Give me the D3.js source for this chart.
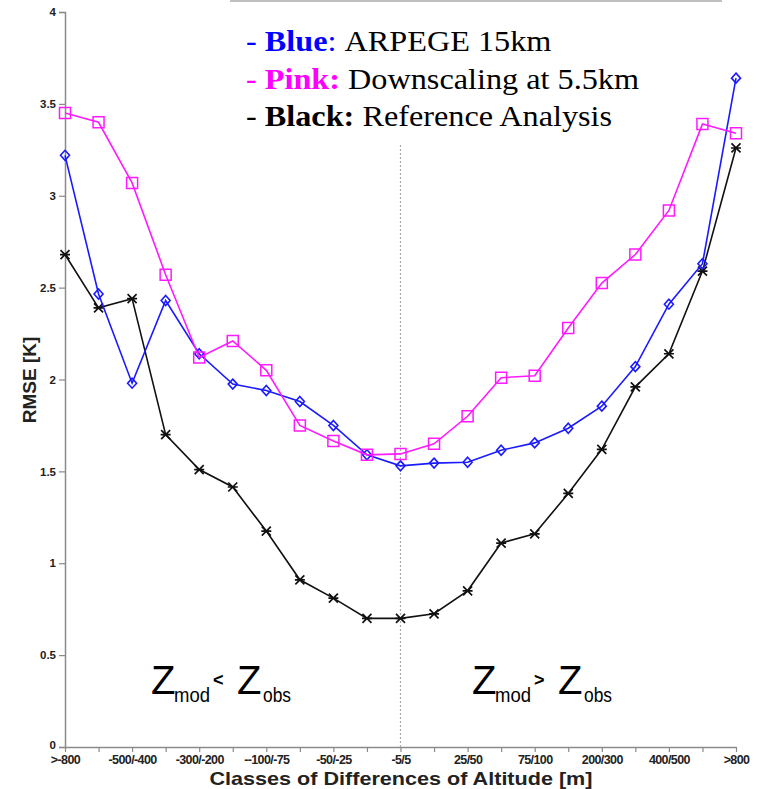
<!DOCTYPE html>
<html>
<head>
<meta charset="utf-8">
<script src="https://cdn.jsdelivr.net/npm/d3@7"></script>
<style>
  body { margin: 0; background: #fff; }
  svg { display: block; }
</style>
</head>
<body>
<div id="chart"></div>
<script>
// Data
const classes = d3.range(21);
const classLabels = [">-800", "", "-500/-400", "", "-300/-200", "", "--100/-75", "", "-50/-25", "",
  "-5/5", "", "25/50", "", "75/100", "", "200/300", "", "400/500", "", ">800"];
const arpege = [3.22, 2.465, 1.98, 2.43, 2.14, 1.975, 1.94, 1.88, 1.75, 1.59, 1.53,
  1.545, 1.55, 1.615, 1.655, 1.735, 1.855, 2.07, 2.41, 2.63, 3.64];
const downscaling = [3.45, 3.40, 3.07, 2.57, 2.12, 2.21, 2.05, 1.75, 1.665, 1.59, 1.595,
  1.65, 1.80, 2.01, 2.02, 2.28, 2.525, 2.68, 2.92, 3.39, 3.34];
const reference = [2.68, 2.39, 2.44, 1.70, 1.51, 1.415, 1.175, 0.91, 0.81, 0.70, 0.70,
  0.725, 0.85, 1.11, 1.16, 1.38, 1.62, 1.96, 2.14, 2.59, 3.26];
const yTicks = [0, 0.5, 1, 1.5, 2, 2.5, 3, 3.5, 4];

const W = 768, H = 789;
const svg = d3.select("#chart").append("svg").attr("width", W).attr("height", H);

const x = d3.scalePoint().domain(classes).range([65, 736]);
const y = d3.scaleLinear().domain([0, 4]).range([747, 12]);

const axisColor = "#8a8a8a";
const sans = "'Liberation Sans', Arial, sans-serif";

// top frame line
svg.append("line")
  .attr("x1", 230).attr("x2", 722).attr("y1", 1).attr("y2", 1)
  .attr("stroke", "#aaa").attr("stroke-width", 1.5);

// Y axis
const yAxis = svg.append("g")
  .attr("transform", `translate(${x(0)},0)`)
  .call(d3.axisLeft(y).tickValues(yTicks).tickSize(6).tickPadding(3).tickFormat(d3.format("~g")));
yAxis.select(".domain").attr("stroke", axisColor).attr("stroke-width", 1.5);
yAxis.selectAll(".tick line").attr("stroke", axisColor).attr("stroke-width", 1.2);
yAxis.selectAll(".tick text")
  .attr("fill", "#222")
  .style("font-family", sans)
  .style("font-weight", "bold")
  .style("font-size", "11.5px");
// lift the "0" label slightly so it clears the first class label
yAxis.selectAll(".tick text").filter(d => d === 0).attr("dy", "0.1em");

// X axis
const xAxis = svg.append("g")
  .attr("transform", `translate(0,${y(0)})`)
  .call(d3.axisBottom(x).tickSize(5).tickSizeOuter(0).tickPadding(3).tickFormat(i => classLabels[i]));
xAxis.select(".domain").attr("stroke", axisColor).attr("stroke-width", 1.5);
xAxis.selectAll(".tick line").attr("stroke", axisColor).attr("stroke-width", 1.2);
xAxis.selectAll(".tick text")
  .attr("fill", "#222")
  .style("font-family", sans)
  .style("font-weight", "bold")
  .style("font-size", "12.5px")
  .style("letter-spacing", "-0.6px");

// Axis titles
svg.append("text")
  .attr("x", 401).attr("y", 785)
  .attr("text-anchor", "middle")
  .attr("textLength", 383).attr("lengthAdjust", "spacingAndGlyphs")
  .style("font-family", sans)
  .style("font-weight", "bold")
  .style("font-size", "19px")
  .attr("fill", "#222")
  .text("Classes of Differences of Altitude [m]");

svg.append("text")
  .attr("transform", "translate(36,380) rotate(-90)")
  .attr("text-anchor", "middle")
  .style("font-family", sans)
  .style("font-weight", "bold")
  .style("font-size", "19px")
  .attr("fill", "#222")
  .text("RMSE [K]");

// centre dotted line
svg.append("line")
  .attr("x1", x(10)).attr("x2", x(10))
  .attr("y1", 145).attr("y2", y(0))
  .attr("stroke", "#aaa").attr("stroke-width", 1.2)
  .attr("stroke-dasharray", "2,2");

// Series
const line = d3.line().x((d, i) => x(i)).y(d => y(d));

function drawSeries(values, color, marker, sw) {
  const g = svg.append("g");
  g.append("path")
    .datum(values)
    .attr("d", line)
    .attr("fill", "none")
    .attr("stroke", color)
    .attr("stroke-width", 1.6);
  g.selectAll("path.marker")
    .data(values)
    .join("path")
    .attr("class", "marker")
    .attr("transform", (d, i) => `translate(${x(i)},${y(d)})`)
    .attr("d", marker)
    .attr("fill", "none")
    .attr("stroke", color)
    .attr("stroke-width", sw);
}

const diamond = "M0,-5L4.5,0L0,5L-4.5,0Z";
const square = "M-5.5,-5.5H5.5V5.5H-5.5Z";
const star = "M-4.5,-4.5L4.5,4.5M-4.5,4.5L4.5,-4.5M-5,0H5";

drawSeries(reference, "#111", star, 1.7);
drawSeries(arpege, "#1a1aff", diamond, 1.6);
drawSeries(downscaling, "#ff1aff", square, 1.5);

// Legend
const legend = svg.append("g")
  .attr("transform", "translate(246,0) scale(1.075,1)")
  .style("font-family", "'Liberation Serif', 'Times New Roman', serif")
  .style("font-size", "30px");

const legendRows = [
  { y: 51, color: "#0000ff", bold: "Blue", tail: ": ", rest: "ARPEGE 15km" },
  { y: 89, color: "#ff00ff", bold: "Pink:", tail: " ", rest: "Downscaling at 5.5km" },
  { y: 126, color: "#000", bold: "Black:", tail: " ", rest: "Reference Analysis" }
];
legendRows.forEach(r => {
  const t = legend.append("text").attr("x", 0).attr("y", r.y);
  t.append("tspan").attr("fill", r.color).text("- ");
  t.append("tspan").attr("fill", r.color).style("font-weight", "bold").text(r.bold);
  t.append("tspan").attr("fill", r.color).text(r.tail);
  t.append("tspan").attr("fill", "#000").text(r.rest);
});

// Zmod / Zobs annotations
function zLabel(x0, sign) {
  const g = svg.append("g")
    .style("font-family", sans)
    .attr("fill", "#000");
  g.append("text").attr("x", x0 - 1).attr("y", 694).style("font-size", "40px").text("Z");
  g.append("text").attr("x", x0 + 22).attr("y", 702).style("font-size", "21px")
    .attr("textLength", 36).attr("lengthAdjust", "spacingAndGlyphs").text("mod");
  g.append("text").attr("x", x0 + 61).attr("y", 686).style("font-size", "18px")
    .style("font-weight", "bold").text(sign);
  g.append("text").attr("x", x0 + 85).attr("y", 694).style("font-size", "40px").text("Z");
  g.append("text").attr("x", x0 + 111).attr("y", 702).style("font-size", "21px")
    .attr("textLength", 28).attr("lengthAdjust", "spacingAndGlyphs").text("obs");
}
zLabel(152, "<");
zLabel(473, ">");
</script>
</body>
</html>
